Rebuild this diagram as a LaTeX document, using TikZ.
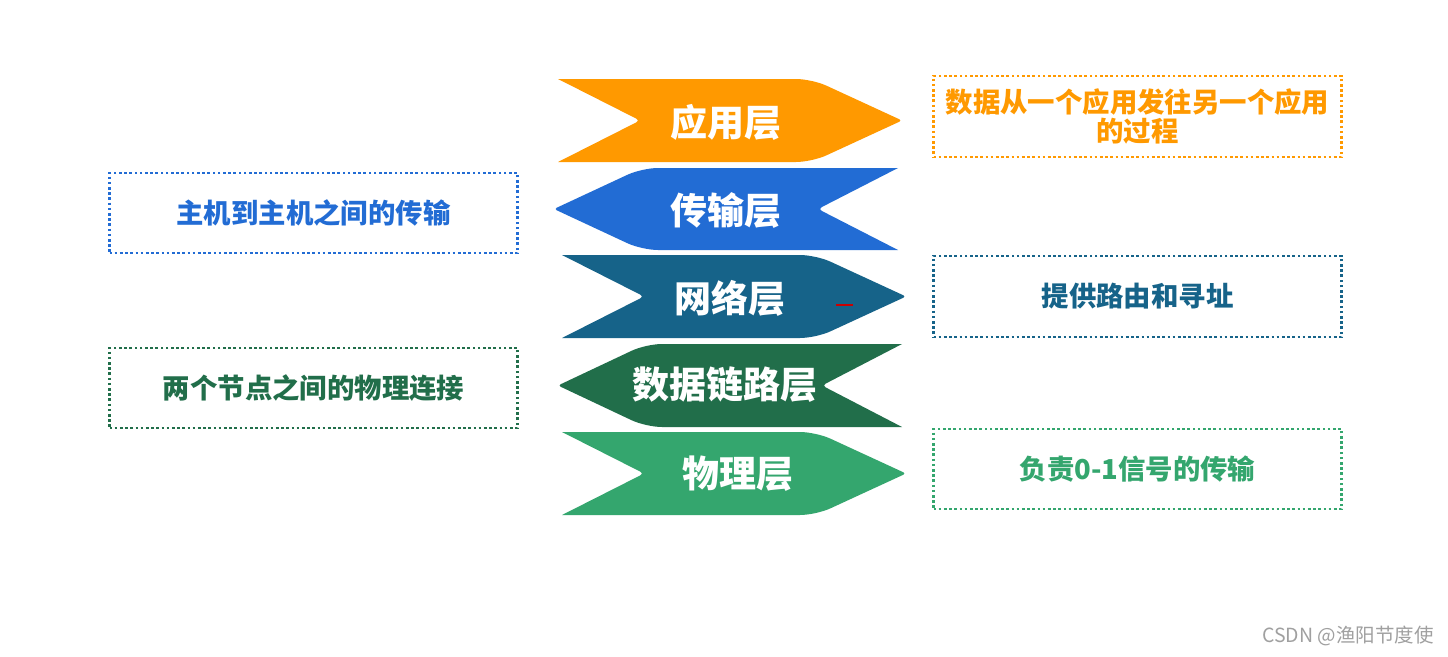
\documentclass[tikz,border=0pt]{standalone}
\usepackage{fontspec}
\setmainfont{Noto Sans CJK SC}
\definecolor{cApp}{RGB}{255,153,0}
\definecolor{cTra}{RGB}{34,108,212}
\definecolor{cNet}{RGB}{22,99,137}
\definecolor{cDat}{RGB}{33,110,74}
\definecolor{cPhy}{RGB}{52,166,110}
\definecolor{cWm}{RGB}{160,160,160}
\tikzset{
  layertext/.style={text=white,font=\fontsize{37}{40}\selectfont\bfseries,inner sep=0pt},
  notebox/.style={draw=#1,line width=2.6pt,dash pattern=on 2.6pt off 2.6pt,text=#1,
    font=\fontsize{27.4}{30}\selectfont\bfseries,align=center,inner sep=0pt},
}
\begin{document}
\begin{tikzpicture}[x=1pt,y=-1pt]
\useasboundingbox[fill=white] (0,0) rectangle (1448,656);
% right-pointing arrows
\newcommand{\rarrow}[4]{% color, top, bottom, xoff
  \fill[#1] (558+#4,#2) [rounded corners=16pt] -- (812+#4,#2) [rounded corners=3pt] -- (902+#4,{(#2+#3)/2})
   [rounded corners=16pt] -- (812+#4,#3) [rounded corners=0pt] -- (558+#4,#3) [rounded corners=4pt] -- (640+#4,{(#2+#3)/2}) [rounded corners=0pt] -- cycle;}
\newcommand{\larrow}[4]{% color, top, bottom, xoff
  \fill[#1] (898+#4,#2) [rounded corners=16pt] -- (642+#4,#2) [rounded corners=3pt] -- (554+#4,{(#2+#3)/2})
   [rounded corners=16pt] -- (642+#4,#3) [rounded corners=0pt] -- (898+#4,#3) [rounded corners=4pt] -- (818+#4,{(#2+#3)/2}) [rounded corners=0pt] -- cycle;}
\rarrow{cApp}{79}{162}{0}
\larrow{cTra}{168}{250}{0}
\rarrow{cNet}{255}{338}{4}
\larrow{cDat}{344}{427}{4}
\rarrow{cPhy}{432}{515}{4}
\node[layertext] (app) at (726,122) {应用层};
\node[layertext] (tra) at (726,210) {传输层};
\node[layertext] (net) at (730,298) {网络层};
\node[layertext] (dat) at (725,385) {数据链路层};
\node[layertext] (phy) at (738,474) {物理层};
\coordinate (ra) at (836,305);
\coordinate (rb) at (853,305);
\draw[red!80!black,line width=2pt] (ra) -- (rb);
% note boxes
\node[notebox=cApp,minimum width=408pt,minimum height=81pt] (napp) at (1137.5,116.5)
  {数据从一个应用发往另一个应用\\[-1pt]的过程};
\node[notebox=cTra,minimum width=408pt,minimum height=80pt] (ntra) at (313.5,213) {主机到主机之间的传输};
\node[notebox=cNet,minimum width=408pt,minimum height=81pt] (nnet) at (1137.5,296.5) {提供路由和寻址};
\node[notebox=cDat,minimum width=408pt,minimum height=80pt] (ndat) at (313.5,388) {两个节点之间的物理连接};
\node[notebox=cPhy,minimum width=408pt,minimum height=80pt] (nphy) at (1137.5,469) {负责0-1信号的传输};
\node[text=cWm,font=\fontsize{19.5}{22}\selectfont,anchor=east,inner sep=0pt] (wm) at (1434,636) {CSDN @渔阳节度使};
\end{tikzpicture}
\end{document}
